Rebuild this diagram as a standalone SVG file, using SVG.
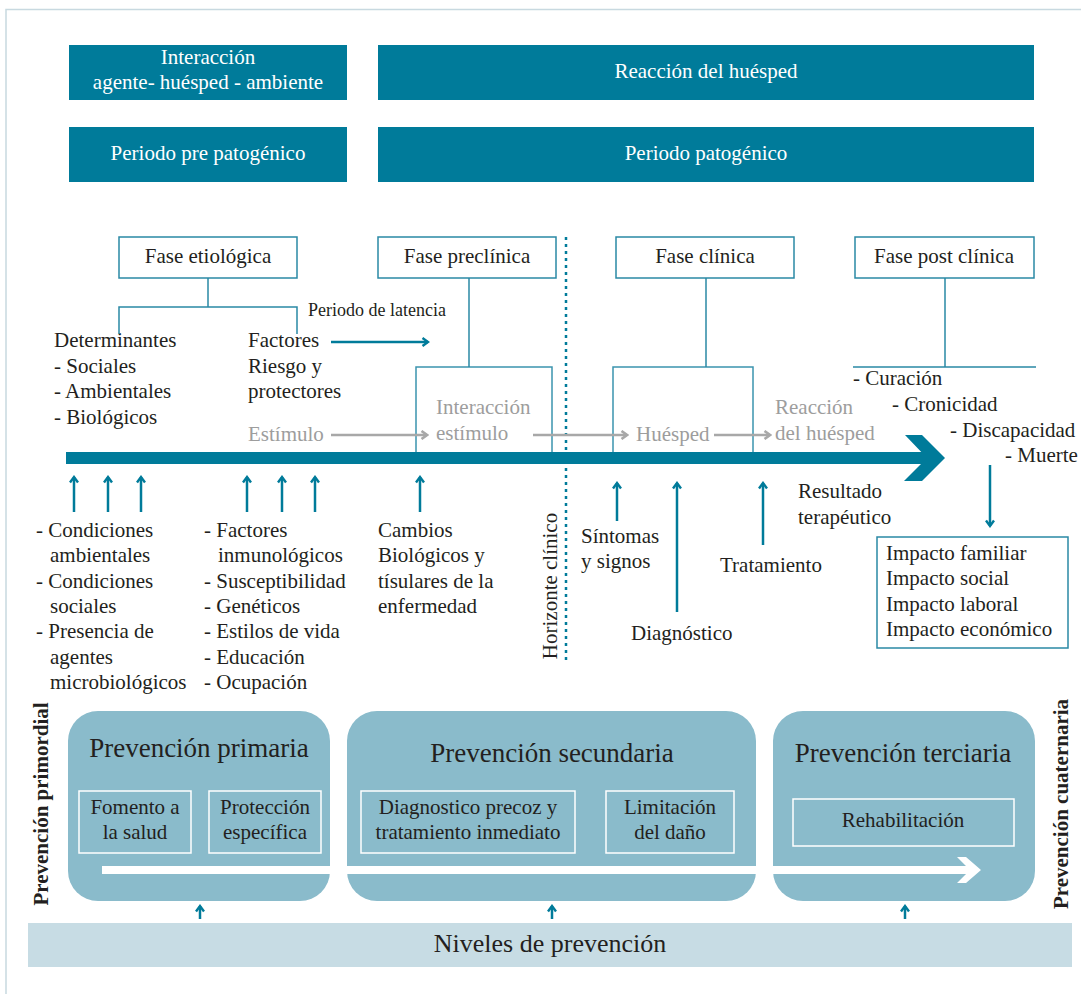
<svg xmlns="http://www.w3.org/2000/svg" width="1081" height="994" viewBox="0 0 1081 994">
<style>
text{font-family:"Liberation Serif","DejaVu Serif",serif;fill:#231f20;font-size:21px}
.w{fill:#ffffff}
.g{fill:#9d9d9d}
.c{text-anchor:middle}
.t{font-size:27px}
.sm{font-size:18px}
.b{font-weight:bold}
.hdr{fill:#007b9a}
.ph{fill:#ffffff;stroke:#2a89a5;stroke-width:1.5}
.ln{fill:none;stroke:#2a89a5;stroke-width:1.5}
.ar{fill:none;stroke:#007b9a;stroke-width:2.5}
.ga{fill:none;stroke:#a8a8a8;stroke-width:2.5}
.pv{fill:#8abbcb}
.ib{fill:none;stroke:#ffffff;stroke-width:1.5}
</style>
<defs>
<marker id="ah" viewBox="0 0 10 10" refX="8" refY="5" markerWidth="10" markerHeight="10" orient="auto" markerUnits="userSpaceOnUse">
<path d="M2.5,1 L8,5 L2.5,9" fill="none" stroke="#007b9a" stroke-width="2.4"/>
</marker>
<marker id="ahg" viewBox="0 0 10 10" refX="8" refY="5" markerWidth="10" markerHeight="10" orient="auto" markerUnits="userSpaceOnUse">
<path d="M2.5,1 L8,5 L2.5,9" fill="none" stroke="#a8a8a8" stroke-width="2.6"/>
</marker>
</defs>

<g id="frame">
<path d="M6,994 V9.5 H1081" fill="none" stroke="#c8d9e0" stroke-width="1.5"/>
</g>

<g id="hdr-interaccion">
<rect class="hdr" x="69" y="45" width="278" height="55"/>
<text class="w c" x="208" y="64">Interacción</text>
<text class="w c" x="208" y="89">agente- huésped - ambiente</text>
</g>
<g id="hdr-reaccion">
<rect class="hdr" x="378" y="45" width="656" height="55"/>
<text class="w c" x="706" y="78">Reacción del huésped</text>
</g>
<g id="hdr-prepatogenico">
<rect class="hdr" x="69" y="127" width="278" height="55"/>
<text class="w c" x="208" y="160">Periodo pre patogénico</text>
</g>
<g id="hdr-patogenico">
<rect class="hdr" x="378" y="127" width="656" height="55"/>
<text class="w c" x="706" y="160">Periodo patogénico</text>
</g>

<g id="fase-etiologica">
<rect class="ph" x="119" y="237" width="178" height="41"/>
<text class="c" x="208" y="263">Fase etiológica</text>
</g>
<g id="fase-preclinica">
<rect class="ph" x="378" y="237" width="178" height="41"/>
<text class="c" x="467" y="263">Fase preclínica</text>
</g>
<g id="fase-clinica">
<rect class="ph" x="616" y="237" width="178" height="41"/>
<text class="c" x="705" y="263">Fase clínica</text>
</g>
<g id="fase-postclinica">
<rect class="ph" x="855" y="237" width="179" height="41"/>
<text class="c" x="944" y="263">Fase post clínica</text>
</g>

<g id="determinantes">
<text x="54" y="347">Determinantes</text>
<text x="54" y="373">- Sociales</text>
<text x="54" y="398">- Ambientales</text>
<text x="54" y="424">- Biológicos</text>
</g>
<g id="factores">
<text x="248" y="347">Factores</text>
<text x="248" y="373">Riesgo y</text>
<text x="248" y="398">protectores</text>
</g>
<g id="latencia">
<text class="sm" x="308" y="316">Periodo de latencia</text>
</g>

<g id="interaccion-estimulo">
<rect x="416" y="367" width="136" height="86" fill="none" stroke="#3b94ae" stroke-width="1.5"/>
<text class="g" x="436" y="414">Interacción</text>
<text class="g" x="436" y="440">estímulo</text>
</g>
<g id="huesped">
<rect x="613" y="367" width="140" height="86" fill="none" stroke="#3b94ae" stroke-width="1.5"/>
<text class="g" x="636" y="441">Huésped</text>
</g>
<g id="estimulo"><text class="g" x="248" y="441">Estímulo</text></g>
<g id="reaccion-huesped">
<text class="g" x="775" y="414">Reacción</text>
<text class="g" x="775" y="440">del huésped</text>
</g>

<g id="resultados">
<text x="853" y="385">- Curación</text>
<text x="892" y="411">- Cronicidad</text>
<text x="950" y="437">- Discapacidad</text>
<text x="1005" y="462">- Muerte</text>
</g>

<g id="timeline">
<rect x="66" y="452" width="862" height="12" fill="#007b9a"/>
<polygon points="905,435 922,435 945,458 922,481 904,481 927,458" fill="#007b9a"/>
</g>

<g id="horizonte">
<line x1="566" y1="237" x2="566" y2="662" stroke="#007b9a" stroke-width="2.5" stroke-dasharray="3 4"/>
<text class="c" transform="translate(557,586) rotate(-90)">Horizonte clínico</text>
</g>

<g id="ambientales">
<text x="36" y="537">- Condiciones</text>
<text x="50" y="562">ambientales</text>
<text x="36" y="588">- Condiciones</text>
<text x="50" y="613">sociales</text>
<text x="36" y="638">- Presencia de</text>
<text x="50" y="664">agentes</text>
<text x="50" y="689">microbiológicos</text>
</g>
<g id="huesped-factores">
<text x="204" y="537">- Factores</text>
<text x="218" y="562">inmunológicos</text>
<text x="204" y="588">- Susceptibilidad</text>
<text x="204" y="613">- Genéticos</text>
<text x="204" y="638">- Estilos de vida</text>
<text x="204" y="664">- Educación</text>
<text x="204" y="689">- Ocupación</text>
</g>
<g id="cambios">
<text x="378" y="537">Cambios</text>
<text x="378" y="562">Biológicos y</text>
<text x="378" y="588">tísulares de la</text>
<text x="378" y="613">enfermedad</text>
</g>
<g id="sintomas">
<text x="581" y="543">Síntomas</text>
<text x="581" y="568">y signos</text>
</g>
<g id="diagnostico"><text x="631" y="640">Diagnóstico</text></g>
<g id="tratamiento"><text x="720" y="572">Tratamiento</text></g>
<g id="resultado-terapeutico">
<text x="798" y="498">Resultado</text>
<text x="798" y="524">terapéutico</text>
</g>
<g id="impactos">
<rect x="877" y="537" width="191" height="111" fill="#ffffff" stroke="#2a89a5" stroke-width="1.5"/>
<text x="886" y="560">Impacto familiar</text>
<text x="886" y="585">Impacto social</text>
<text x="886" y="611">Impacto laboral</text>
<text x="886" y="636">Impacto económico</text>
</g>

<g id="connectors">
<path class="ln" d="M208,278 V307 M119,334 V307 H297 V334"/>
<path class="ln" d="M469,278 V367"/>
<path class="ln" d="M706,278 V367"/>
<path class="ln" d="M945,278 V367 M853,367 H1036"/>
<line class="ar" x1="331" y1="342" x2="428" y2="342" marker-end="url(#ah)"/>
<line class="ga" x1="331" y1="435" x2="427" y2="435" marker-end="url(#ahg)"/>
<line class="ga" x1="533" y1="435" x2="627" y2="435" marker-end="url(#ahg)"/>
<line class="ga" x1="714" y1="435" x2="770" y2="435" marker-end="url(#ahg)"/>
<line class="ar" x1="74" y1="512" x2="74" y2="477" marker-end="url(#ah)"/>
<line class="ar" x1="108" y1="512" x2="108" y2="477" marker-end="url(#ah)"/>
<line class="ar" x1="141" y1="512" x2="141" y2="477" marker-end="url(#ah)"/>
<line class="ar" x1="247" y1="512" x2="247" y2="477" marker-end="url(#ah)"/>
<line class="ar" x1="282" y1="512" x2="282" y2="477" marker-end="url(#ah)"/>
<line class="ar" x1="315" y1="512" x2="315" y2="477" marker-end="url(#ah)"/>
<line class="ar" x1="420" y1="512" x2="420" y2="477" marker-end="url(#ah)"/>
<line class="ar" x1="617" y1="521" x2="617" y2="483" marker-end="url(#ah)"/>
<line class="ar" x1="677" y1="612" x2="677" y2="483" marker-end="url(#ah)"/>
<line class="ar" x1="763" y1="545" x2="763" y2="483" marker-end="url(#ah)"/>
<line class="ar" x1="990" y1="465" x2="990" y2="526" marker-end="url(#ah)"/>
<line class="ar" x1="200" y1="919" x2="200" y2="906" marker-end="url(#ah)"/>
<line class="ar" x1="552" y1="919" x2="552" y2="906" marker-end="url(#ah)"/>
<line class="ar" x1="905" y1="919" x2="905" y2="906" marker-end="url(#ah)"/>
</g>

<g id="prevencion-primaria">
<rect class="pv" x="68" y="711" width="262" height="190" rx="30"/>
<text class="c t" x="199" y="757">Prevención primaria</text>
<rect class="ib" x="79" y="791" width="112" height="62"/>
<text class="c" x="135" y="814">Fomento a</text>
<text class="c" x="135" y="839">la salud</text>
<rect class="ib" x="209" y="791" width="112" height="62"/>
<text class="c" x="265" y="814">Protección</text>
<text class="c" x="265" y="839">específica</text>
</g>
<g id="prevencion-secundaria">
<rect class="pv" x="347" y="711" width="409" height="190" rx="30"/>
<text class="c t" x="552" y="762">Prevención secundaria</text>
<rect class="ib" x="361" y="791" width="214" height="62"/>
<text class="c" x="468" y="814">Diagnostico precoz y</text>
<text class="c" x="468" y="839">tratamiento inmediato</text>
<rect class="ib" x="606" y="791" width="128" height="62"/>
<text class="c" x="670" y="814">Limitación</text>
<text class="c" x="670" y="839">del daño</text>
</g>
<g id="prevencion-terciaria">
<rect class="pv" x="773" y="711" width="262" height="190" rx="30"/>
<text class="c t" x="903" y="762">Prevención terciaria</text>
<rect class="ib" x="793" y="799" width="221" height="47"/>
<text class="c" x="903" y="827">Rehabilitación</text>
</g>
<g id="flecha-prevencion">
<rect x="102" y="866" width="871" height="8" fill="#ffffff"/>
<polygon points="957,857 966,857 981,870 966,883 957,883 970,870" fill="#ffffff"/>
</g>

<g id="primordial"><text class="b" transform="translate(48,804) rotate(-90)" text-anchor="middle" style="font-size:21px">Prevención primordial</text></g>
<g id="cuaternaria"><text class="b" transform="translate(1068,804) rotate(-90)" text-anchor="middle" style="font-size:21px">Prevención cuaternaria</text></g>

<g id="niveles">
<rect x="28" y="923" width="1044" height="44" fill="#c7dce4"/>
<text class="c" x="550" y="952" style="font-size:26px">Niveles de prevención</text>
</g>
</svg>
